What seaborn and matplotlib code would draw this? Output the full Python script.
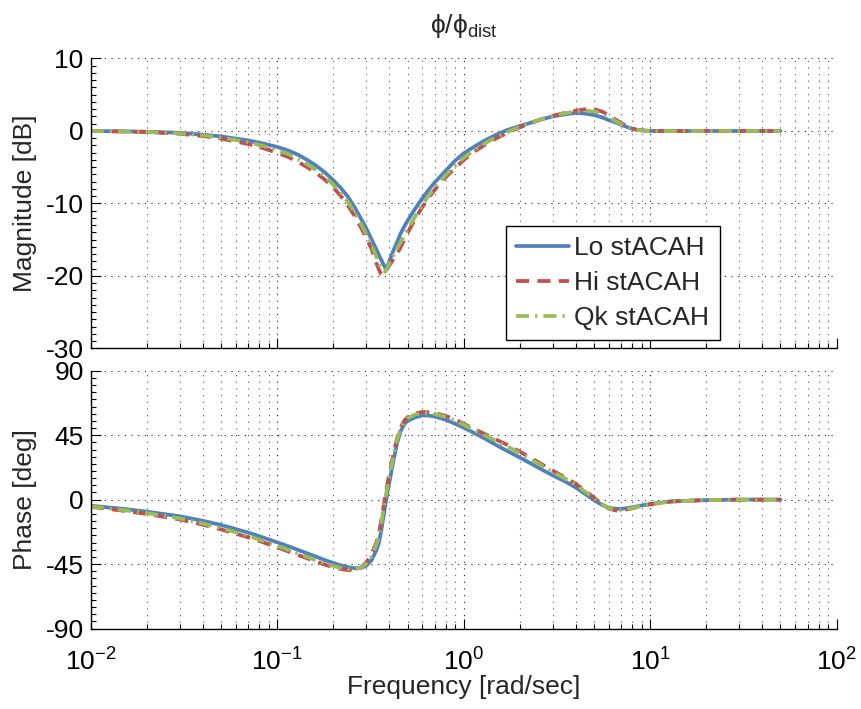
import numpy as np
import pandas as pd
import seaborn as sns
import matplotlib
matplotlib.use("Agg")
import matplotlib.pyplot as plt
from matplotlib.ticker import LogLocator, MultipleLocator, NullFormatter

# ---------------- data ----------------
freq = [0.01, 0.015, 0.02, 0.03, 0.04, 0.05, 0.07, 0.085, 0.1, 0.115,
        0.13, 0.145, 0.16, 0.18, 0.2, 0.22, 0.24, 0.26, 0.28, 0.30,
        0.32, 0.34, 0.35, 0.36, 0.37, 0.38, 0.39, 0.40, 0.42, 0.44,
        0.46, 0.48, 0.5, 0.55, 0.6, 0.65, 0.7, 0.8, 0.9, 1.0,
        1.15, 1.3, 1.5, 1.7, 2.0, 2.2, 2.6, 3.0, 3.5, 4.0,
        4.5, 5.0, 5.5, 6.0, 6.5, 7.0, 7.7, 8.5, 10, 13,
        20, 30, 50]

mag_lo = [0, -0.05, -0.1, -0.25, -0.5, -0.75, -1.3, -1.75, -2.2, -2.7,
          -3.3, -4.0, -4.7, -5.7, -6.8, -7.9, -9.1, -10.5, -12.0, -13.4,
          -14.9, -16.3, -17.0, -17.7, -18.3, -18.9, -18.7, -17.9, -16.5, -15.3,
          -14.1, -13.2, -12.4, -10.7, -9.3, -8.1, -7.1, -5.5, -4.1, -3.1,
          -2.1, -1.3, -0.5, 0.1, 0.7, 1.0, 1.6, 2.0, 2.3, 2.5,
          2.4, 2.2, 1.9, 1.5, 1.2, 0.85, 0.45, 0.15, 0, 0,
          0, 0, 0]
mag_hi = [0, -0.07, -0.15, -0.38, -0.7, -1.05, -1.8, -2.4, -3.0, -3.6,
          -4.3, -5.0, -5.7, -6.7, -7.8, -9.0, -10.3, -11.7, -13.2, -14.7,
          -16.2, -18.2, -19.0, -19.7, -19.9, -19.6, -19.0, -18.5, -17.7, -16.9,
          -16.0, -15.0, -14.1, -12.1, -10.5, -9.2, -8.1, -6.4, -5.1, -4.0,
          -2.8, -1.9, -1.0, -0.3, 0.5, 0.9, 1.6, 2.1, 2.5, 2.8,
          3.0, 3.0, 2.7, 2.2, 1.6, 1.1, 0.5, 0.15, 0, 0,
          0, 0, 0]
mag_qk = [0, -0.06, -0.13, -0.33, -0.6, -0.9, -1.55, -2.1, -2.65, -3.2,
          -3.9, -4.6, -5.3, -6.3, -7.4, -8.6, -9.8, -11.2, -12.7, -14.2,
          -15.7, -17.3, -18.1, -18.9, -19.4, -19.4, -18.9, -18.2, -17.2, -16.2,
          -15.3, -14.5, -13.6, -11.8, -10.2, -8.9, -7.8, -6.1, -4.8, -3.7,
          -2.6, -1.7, -0.8, -0.2, 0.6, 0.95, 1.6, 2.05, 2.45, 2.7,
          2.8, 2.7, 2.4, 1.9, 1.4, 0.95, 0.45, 0.15, 0, 0,
          0, 0, 0]

ph_lo = [-4.2, -6.5, -8.4, -11.6, -14.8, -17.7, -23.0, -26.7, -29.8, -32.6,
         -35.2, -37.5, -39.6, -42.2, -44.2, -45.9, -47.2, -47.9, -47.8, -46.3,
         -42.5, -35.5, -31.0, -23.0, -13.5, -4.0, 4.5, 12.5, 27.0, 39.5,
         48.0, 52.5, 55.0, 57.5, 58.8, 58.7, 58.0, 55.8, 53.0, 50.3,
         46.2, 42.6, 38.0, 34.2, 29.4, 26.5, 21.3, 17.0, 12.7, 8.4,
         3.8, -0.3, -3.6, -5.6, -6.4, -6.5, -5.7, -4.7, -3.0, -1.2,
         -0.3, 0, 0]
ph_hi = [-5.0, -7.8, -10.0, -13.8, -17.5, -20.8, -26.3, -30.0, -33.3, -36.2,
         -38.8, -41.0, -43.0, -45.4, -47.2, -48.5, -49.2, -49.0, -47.5, -44.0,
         -38.5, -30.0, -24.5, -16.0, -6.5, 2.5, 11.0, 18.5, 32.0, 43.0,
         50.5, 55.0, 57.5, 60.2, 61.2, 61.0, 60.4, 58.5, 56.0, 53.0,
         49.0, 45.8, 41.8, 38.5, 33.5, 30.5, 25.0, 20.3, 15.5, 11.0,
         6.0, 1.5, -3.0, -6.3, -7.5, -7.6, -6.6, -5.3, -3.3, -1.3,
         -0.3, 0, 0]
ph_qk = [-4.7, -7.3, -9.4, -13.1, -16.7, -19.9, -25.3, -29.0, -32.3, -35.2,
         -37.8, -40.0, -42.1, -44.5, -46.3, -47.7, -48.6, -48.7, -47.6, -44.8,
         -39.8, -31.5, -26.0, -18.0, -8.5, 0.5, 9.0, 16.5, 30.5, 42.0,
         49.8, 54.3, 56.8, 59.5, 60.6, 60.4, 59.8, 57.8, 55.2, 52.3,
         48.2, 44.9, 40.8, 37.4, 32.4, 29.4, 24.0, 19.4, 14.7, 10.2,
         5.4, 1.0, -3.0, -6.0, -7.1, -7.2, -6.3, -5.1, -3.2, -1.3,
         -0.3, 0, 0]

series_names = ["Lo stACAH", "Hi stACAH", "Qk stACAH"]
mag_ticks = [-30, -20, -10, 0, 10]
phase_ticks = [-90, -45, 0, 45, 90]

# ---------------- styling ----------------
sns.set_theme(style="ticks")
plt.rcParams["font.family"] = ["Liberation Sans", "DejaVu Sans"]
plt.rcParams["mathtext.fontset"] = "custom"
plt.rcParams["mathtext.rm"] = "Liberation Sans"
plt.rcParams["mathtext.it"] = "Liberation Sans:italic"
plt.rcParams["mathtext.bf"] = "Liberation Sans:bold"
plt.rcParams["axes.unicode_minus"] = False

FS = 19
colors = ["#4F81BD", "#C0504D", "#9BBB59"]
styles = ["-", (0, (3.5, 2.2)), (0, (3.5, 1.6, 0.6, 1.6))]
LW = 2.7

fig = plt.figure(figsize=(8.61, 7.09), dpi=100)
ax1 = fig.add_axes([0.1053, 0.5085, 0.8664, 0.4090])
ax2 = fig.add_axes([0.1053, 0.1135, 0.8664, 0.3636])

mag_df = pd.DataFrame({"f": freq, series_names[0]: mag_lo,
                       series_names[1]: mag_hi, series_names[2]: mag_qk})
ph_df = pd.DataFrame({"f": freq, series_names[0]: ph_lo,
                      series_names[1]: ph_hi, series_names[2]: ph_qk})

for name, c, ls in zip(series_names, colors, styles):
    sns.lineplot(data=mag_df, x="f", y=name, ax=ax1, color=c, linestyle=ls,
                 linewidth=LW, label=name, legend=False)
    sns.lineplot(data=ph_df, x="f", y=name, ax=ax2, color=c, linestyle=ls,
                 linewidth=LW, legend=False)

for ax in (ax1, ax2):
    ax.set_xscale("log")
    ax.set_xlim(1e-2, 1e2)
    ax.xaxis.set_major_locator(LogLocator(base=10, numticks=10))
    ax.xaxis.set_minor_locator(LogLocator(base=10, subs=np.arange(2, 10), numticks=20))
    ax.xaxis.set_minor_formatter(NullFormatter())
    for s in ("top", "right"):
        ax.spines[s].set_visible(False)
    for s in ("left", "bottom"):
        ax.spines[s].set_linewidth(1.0)
        ax.spines[s].set_color("black")
    ax.tick_params(which="both", direction="in", colors="black", labelsize=FS,
                   width=0.8)
    ax.tick_params(which="major", length=7)
    ax.tick_params(which="minor", length=3.5)
    ax.tick_params(axis="y", which="major", pad=5)
    ax.grid(which="major", axis="both", linestyle=(0, (1, 5)), color="0.1", linewidth=0.8)
    ax.grid(which="minor", axis="x", linestyle=(0, (1, 5)), color="0.35", linewidth=0.8)
    ax.set_axisbelow(True)

ax1.set_ylim(-30, 10)
ax1.set_yticks(mag_ticks)
ax1.yaxis.set_minor_locator(MultipleLocator(1))
ax1.tick_params(axis="x", which="both", labelbottom=False)
ax1.set_xlabel("")
ax1.set_ylabel("Magnitude [dB]", fontsize=FS, labelpad=6)
ax1.set_title("ϕ/ϕ$_{\\mathrm{dist}}$", fontsize=FS, pad=18)

ax2.set_ylim(-90, 90)
ax2.set_yticks(phase_ticks)
ax2.yaxis.set_minor_locator(MultipleLocator(5))
ax2.tick_params(axis="x", which="major", pad=14)
ax2.set_ylabel("Phase [deg]", fontsize=FS, labelpad=6)
ax2.set_xlabel("Frequency [rad/sec]", fontsize=FS, labelpad=0)

handles, labels = ax1.get_legend_handles_labels()
leg = ax1.legend(handles, labels, loc="lower right", bbox_to_anchor=(0.843, 0.029),
                 fontsize=FS, frameon=True, fancybox=False, framealpha=1,
                 edgecolor="black", handlelength=2.0, handletextpad=0.22,
                 labelspacing=0.42, borderpad=0.38, borderaxespad=0)
leg.get_frame().set_linewidth(1.0)

fig.savefig("out.png", dpi=100, facecolor="white")
